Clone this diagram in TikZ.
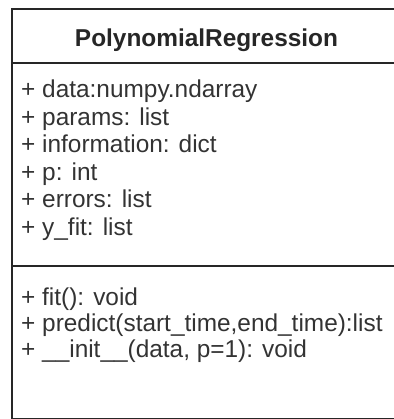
\documentclass[tikz,border=0pt]{standalone}
\usepackage{fontspec}
\setmainfont{Liberation Sans}

\begin{document}
\begin{tikzpicture}[x=1pt,y=-1pt,
  uml/.style={line width=2pt,black!85},
  member/.style={anchor=base west,inner sep=0pt,text=black!80,font=\fontsize{24.4}{27}\selectfont}]
\useasboundingbox (0,0) rectangle (393,419);

% sinif kutusu ve bolmeler
\draw[uml] (404,9.5) -- (11.5,9.5) -- (11.5,418.5) -- (404,418.5);
\draw[uml] (11.5,63) -- (404,63);
\draw[uml] (11.5,265.5) -- (404,265.5);

% sinif adi
\node[anchor=base,inner sep=0pt,text=black!85,font=\fontsize{24.4}{27}\selectfont\bfseries] (title) at (206.5,47) {PolynomialRegression};

% nitelikler
\node[member] (data) at (21,98) {+ data:numpy.ndarray};
\node[member] (params) at (21,125.4) {+ params: list};
\node[member] (info) at (21,152.8) {+ information: dict};
\node[member] (p) at (21,180.2) {+ p: int};
\node[member] (errors) at (21,207.6) {+ errors: list};
\node[member] (yfit) at (21,235) {+ y\_fit: list};

% metotlar
\node[member] (fit) at (21,305) {+ fit(): void};
\node[member] (predict) at (21,331) {+ predict(start\_time,end\_time):list};
\node[member] (init) at (21,357) {+ \_\_init\_\_(data, p=1): void};

\end{tikzpicture}
\end{document}
